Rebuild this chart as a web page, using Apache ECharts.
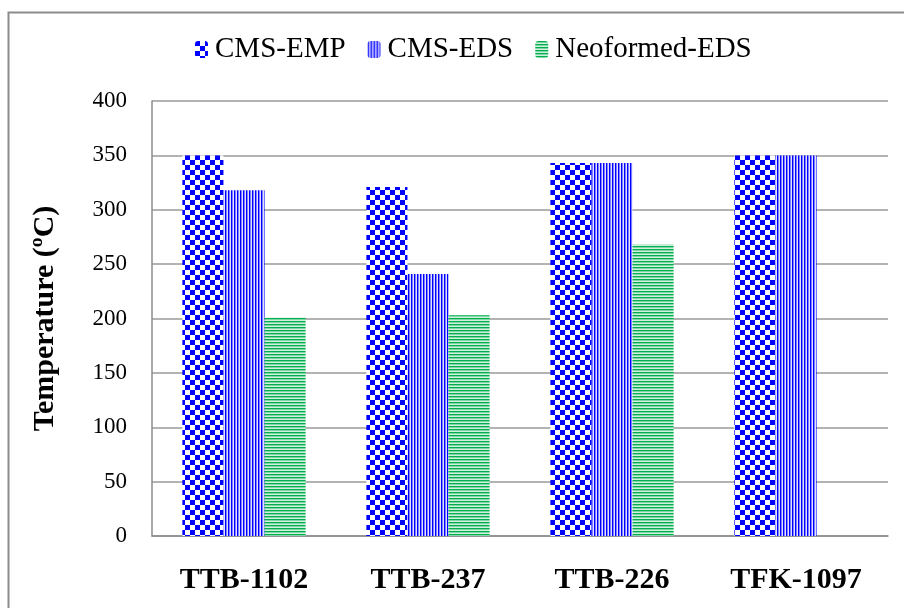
<!DOCTYPE html>
<html><head><meta charset="utf-8">
<script src="https://cdn.jsdelivr.net/npm/echarts@6/dist/echarts.min.js"></script>
<style>html,body{margin:0;padding:0;background:#fff}#c{width:904px;height:608px}</style>
</head><body><div id="c"></div>
<script>
const categories = ['TTB-1102', 'TTB-237', 'TTB-226', 'TFK-1097'];
const seriesNames = ['CMS-EMP', 'CMS-EDS', 'Neoformed-EDS'];
const cmsEmp = [350, 321, 343, 350];
const cmsEds = [318, 241, 343, 350];
const neoEds = [201, 203, 268, null];
const yTicks = [0, 50, 100, 150, 200, 250, 300, 350, 400];

function makePattern(w, h, draw) {
  const c = document.createElement('canvas');
  c.width = w; c.height = h;
  const g = c.getContext('2d');
  draw(g);
  return { image: c, repeat: 'repeat' };
}
const checker = makePattern(10, 10, g => {
  g.fillStyle = '#ffffff'; g.fillRect(0, 0, 10, 10);
  g.fillStyle = '#0000ff'; g.fillRect(0, 0, 5, 5); g.fillRect(5, 5, 5, 5);
});
const vstripe = makePattern(3, 3, g => {
  g.fillStyle = '#0000ff'; g.fillRect(0, 0, 1, 3);
  g.fillStyle = '#8080ff'; g.fillRect(1, 0, 1, 3);
  g.fillStyle = '#e0e0ff'; g.fillRect(2, 0, 1, 3);
});
const hstripe = makePattern(3, 3, g => {
  g.fillStyle = '#00b050'; g.fillRect(0, 0, 3, 1);
  g.fillStyle = '#80d4a6'; g.fillRect(0, 1, 3, 1);
  g.fillStyle = '#d0f0dc'; g.fillRect(0, 2, 3, 1);
});

const chart = echarts.init(document.getElementById('c'), null, { renderer: 'canvas' });
const serif = '"Liberation Serif", "Times New Roman", serif';
chart.setOption({
  animation: false,
  backgroundColor: '#fff',
  graphic: [{
    type: 'rect', left: 6, top: 10, z: -1,
    shape: { width: 920, height: 620 },
    style: { fill: 'none', stroke: '#8c8c8c', lineWidth: 2 }
  }],
  legend: {
    left: 190, top: 30,
    itemWidth: 13, itemHeight: 17, itemGap: 22,
    textStyle: { fontFamily: serif, fontSize: 29, color: '#000', padding: [0, 0, 0, 2] },
    data: seriesNames
  },
  grid: { left: 152, right: 16, top: 101, bottom: 72 },
  xAxis: {
    type: 'category', data: categories,
    axisLine: { lineStyle: { color: '#8c8c8c', width: 1.5 } },
    axisTick: { show: false },
    axisLabel: { fontFamily: serif, fontWeight: 'bold', fontSize: 30, color: '#000', margin: 29 }
  },
  yAxis: {
    type: 'value', min: 0, max: 400, interval: 50,
    name: 'Temperature (ºC)', nameLocation: 'middle', nameGap: 92,
    nameTextStyle: { fontFamily: serif, fontWeight: 'bold', fontSize: 30, color: '#000' },
    axisLine: { show: true, lineStyle: { color: '#8c8c8c', width: 1.5 } },
    axisTick: { show: false },
    axisLabel: { fontFamily: serif, fontSize: 23, color: '#000', margin: 25,
      formatter: v => yTicks.includes(v) ? String(v) : '' },
    splitLine: { lineStyle: { color: '#9a9a9a', width: 1.5 } }
  },
  series: [
    { name: seriesNames[0], type: 'bar', data: cmsEmp, barGap: '0%', barCategoryGap: '33%', itemStyle: { color: checker } },
    { name: seriesNames[1], type: 'bar', data: cmsEds, barGap: '0%', barCategoryGap: '33%', itemStyle: { color: vstripe } },
    { name: seriesNames[2], type: 'bar', data: neoEds, barGap: '0%', barCategoryGap: '33%', itemStyle: { color: hstripe } }
  ]
});
</script></body></html>
